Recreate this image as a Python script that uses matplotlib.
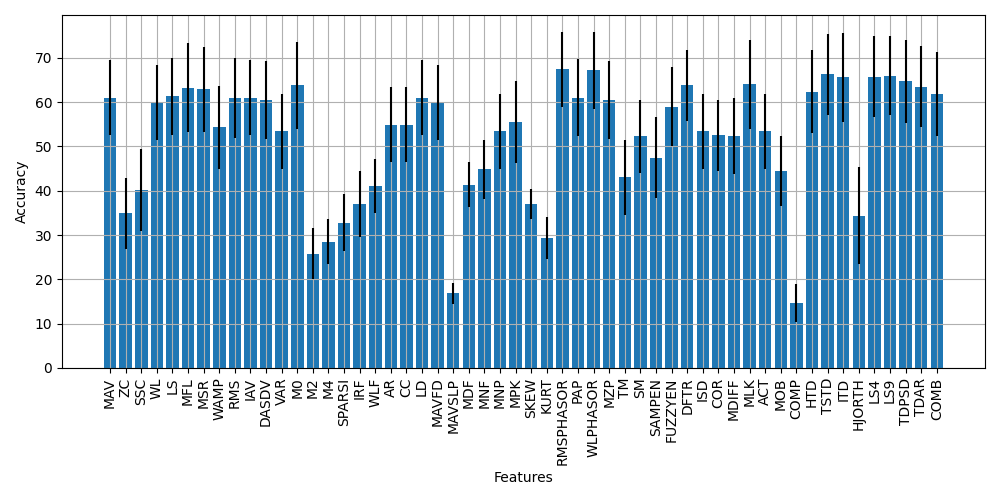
import numpy as np
import matplotlib
matplotlib.use('Agg')
import matplotlib.pyplot as plt

# feature names and mean / std accuracy
features = ['MAV', 'ZC', 'SSC', 'WL', 'LS', 'MFL', 'MSR', 'WAMP', 'RMS', 'IAV',
            'DASDV', 'VAR', 'M0', 'M2', 'M4', 'SPARSI', 'IRF', 'WLF', 'AR', 'CC',
            'LD', 'MAVFD', 'MAVSLP', 'MDF', 'MNF', 'MNP', 'MPK', 'SKEW', 'KURT',
            'RMSPHASOR', 'PAP', 'WLPHASOR', 'MZP', 'TM', 'SM', 'SAMPEN', 'FUZZYEN',
            'DFTR', 'ISD', 'COR', 'MDIFF', 'MLK', 'ACT', 'MOB', 'COMP', 'HTD',
            'TSTD', 'ITD', 'HJORTH', 'LS4', 'LS9', 'TDPSD', 'TDAR', 'COMB']

accuracy = [61.0, 34.9, 40.2, 60.0, 61.3, 63.3, 62.9, 54.3, 61.0, 61.0,
            60.4, 53.4, 63.8, 25.8, 28.5, 32.8, 37.1, 41.1, 54.9, 54.9,
            61.0, 59.9, 16.8, 41.4, 44.8, 53.4, 55.6, 37.1, 29.4,
            67.4, 61.0, 67.2, 60.4, 43.0, 52.3, 47.5, 59.0,
            63.8, 53.4, 52.5, 52.3, 64.0, 53.4, 44.5, 14.7, 62.4,
            66.3, 65.6, 34.4, 65.8, 66.0, 64.7, 63.5, 61.9]

std = [8.45, 7.95, 9.3, 8.45, 8.65, 10.0, 9.6, 9.3, 9.05, 8.45,
       8.8, 8.45, 9.8, 5.75, 5.05, 6.45, 7.45, 6.05, 8.45, 8.45,
       8.45, 8.45, 2.4, 5.05, 6.75, 8.45, 9.25, 3.4, 4.75,
       8.45, 8.7, 8.7, 8.8, 8.45, 8.25, 9.15, 8.95,
       7.95, 8.45, 8.05, 8.55, 10.1, 8.45, 7.95, 4.3, 9.3,
       9.2, 10.1, 11.0, 9.2, 9.0, 9.3, 9.1, 9.5]

fig, ax = plt.subplots(figsize=(10, 5), dpi=100)
x = np.arange(len(features))
ax.bar(x, accuracy, yerr=std, color='#1f77b4', ecolor='black')
ax.set_xticks(x)
ax.set_xticklabels(features, rotation=90)
ax.set_xlabel('Features')
ax.set_ylabel('Accuracy')
ax.grid()

plt.tight_layout()
plt.savefig('out.png')
